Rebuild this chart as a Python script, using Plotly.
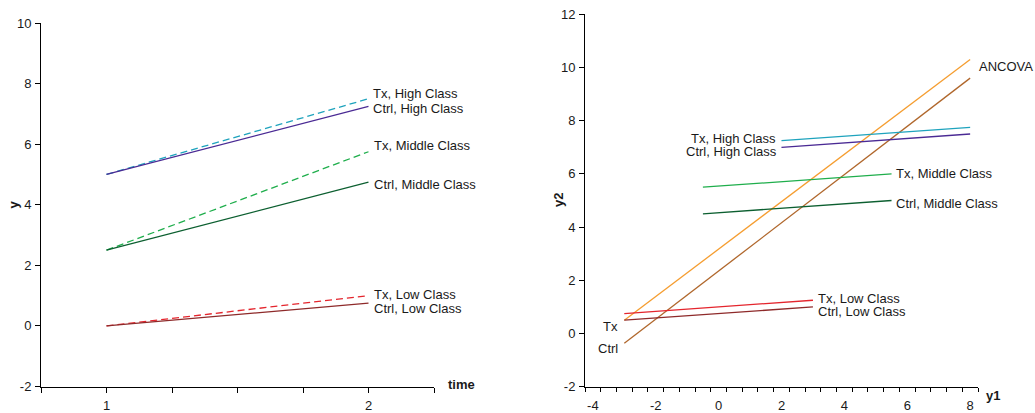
import plotly.graph_objects as go

# ---------------- Left panel data ----------------
time_points = [1, 2]
tx_high = [5.0, 7.5]
ctrl_high = [5.0, 7.25]
tx_mid = [2.5, 5.75]
ctrl_mid = [2.5, 4.75]
tx_low = [0.0, 1.0]
ctrl_low = [0.0, 0.75]

left_xtick_vals = [0.75, 1.0, 1.25, 1.5, 1.75, 2.0, 2.25]
left_xtick_text = ["", "1", "", "", "", "2", ""]
left_ytick_vals = [-2, 0, 2, 4, 6, 8, 10]
left_ytick_text = ["-2", "0", "2", "4", "6", "8", "10"]

# ---------------- Right panel data ----------------
high_y1 = [2, 8]
tx_high_y2 = [7.25, 7.75]
ctrl_high_y2 = [7.0, 7.5]
mid_y1 = [-0.5, 5.5]
tx_mid_y2 = [5.5, 6.0]
ctrl_mid_y2 = [4.5, 5.0]
low_y1 = [-3, 3]
tx_low_y2 = [0.75, 1.25]
ctrl_low_y2 = [0.5, 1.0]
ancova_y1 = [-3, 8]
ancova_tx_y2 = [0.5, 10.3]
ancova_ctrl_y2 = [-0.37, 9.6]

right_xtick_vals = [-4, -2, 0, 2, 4, 6, 8]
right_xtick_text = ["-4", "-2", "0", "2", "4", "6", "8"]
right_xminor_vals = [-4.25 + 0.5 * k for k in range(26)]
right_ytick_vals = [-2, 0, 2, 4, 6, 8, 10, 12]
right_ytick_text = ["-2", "0", "2", "4", "6", "8", "10", "12"]

C_TX_HIGH = "#1ea3bd"
C_CTRL_HIGH = "#4a2a94"
C_TX_MID = "#1fae4c"
C_CTRL_MID = "#0c5f30"
C_TX_LOW = "#e4252d"
C_CTRL_LOW = "#8e2a2a"
C_ANC_TX = "#f59d30"
C_ANC_CTRL = "#b0672c"

FONT = "Liberation Sans, Arial, sans-serif"
TXT = "#1a1a1a"
DASH = "7px,4px"

fig = go.Figure()

def add_line(x, y, color, dash=None, xa="x", ya="y"):
    fig.add_trace(go.Scatter(
        x=x, y=y, mode="lines", xaxis=xa, yaxis=ya,
        line=dict(color=color, width=1.3, dash=dash if dash else "solid"),
        showlegend=False, hoverinfo="skip"))

# Left panel
add_line(time_points, tx_high, C_TX_HIGH, DASH)
add_line(time_points, ctrl_high, C_CTRL_HIGH)
add_line(time_points, tx_mid, C_TX_MID, DASH)
add_line(time_points, ctrl_mid, C_CTRL_MID)
add_line(time_points, tx_low, C_TX_LOW, DASH)
add_line(time_points, ctrl_low, C_CTRL_LOW)

# Right panel
add_line(ancova_y1, ancova_tx_y2, C_ANC_TX, xa="x2", ya="y2")
add_line(ancova_y1, ancova_ctrl_y2, C_ANC_CTRL, xa="x2", ya="y2")
add_line(high_y1, tx_high_y2, C_TX_HIGH, xa="x2", ya="y2")
add_line(high_y1, ctrl_high_y2, C_CTRL_HIGH, xa="x2", ya="y2")
add_line(mid_y1, tx_mid_y2, C_TX_MID, xa="x2", ya="y2")
add_line(mid_y1, ctrl_mid_y2, C_CTRL_MID, xa="x2", ya="y2")
add_line(low_y1, tx_low_y2, C_TX_LOW, xa="x2", ya="y2")
add_line(low_y1, ctrl_low_y2, C_CTRL_LOW, xa="x2", ya="y2")

ann = []

def label(text, x, y, xref, yref, xanchor, xshift, yshift):
    ann.append(dict(
        text=text, x=x, y=y, xref=xref, yref=yref,
        xanchor=xanchor, yanchor="middle", xshift=xshift, yshift=yshift,
        showarrow=False, font=dict(family=FONT, size=13, color=TXT)))

# Left labels
label("Tx, High Class", time_points[1], tx_high[1], "x", "y", "left", 2, 5)
label("Ctrl, High Class", time_points[1], ctrl_high[1], "x", "y", "left", 2, -2)
label("Tx, Middle Class", time_points[1], tx_mid[1], "x", "y", "left", 3, 6)
label("Ctrl, Middle Class", time_points[1], ctrl_mid[1], "x", "y", "left", 3, -2)
label("Tx, Low Class", time_points[1], tx_low[1], "x", "y", "left", 3, 1.5)
label("Ctrl, Low Class", time_points[1], ctrl_low[1], "x", "y", "left", 3, -5)

# Right labels
label("Tx, High Class", high_y1[0], tx_high_y2[0], "x2", "y2", "right", -4, 2.5)
label("Ctrl, High Class", high_y1[0], ctrl_high_y2[0], "x2", "y2", "right", -3, -4)
label("Tx, Middle Class", mid_y1[1], tx_mid_y2[1], "x2", "y2", "left", 2, 0)
label("Ctrl, Middle Class", mid_y1[1], ctrl_mid_y2[1], "x2", "y2", "left", 2, -3)
label("Tx, Low Class", low_y1[1], tx_low_y2[1], "x2", "y2", "left", 3, 1.5)
label("Ctrl, Low Class", low_y1[1], ctrl_low_y2[1], "x2", "y2", "left", 3, -4.5)
label("ANCOVA", ancova_y1[1], ancova_tx_y2[1], "x2", "y2", "left", 7, -7)
label("Tx", ancova_y1[0], ancova_tx_y2[0], "x2", "y2", "right", -4, -6)
label("Ctrl", ancova_y1[0], ancova_ctrl_y2[0], "x2", "y2", "right", -4, -5.5)

W, H = 1035, 413

def axis_title(text, px, py, angle=0):
    ann.append(dict(text=f"<b>{text}</b>", x=px / W, y=(H - py) / H,
                    xref="paper", yref="paper", xanchor="center", yanchor="middle",
                    showarrow=False, textangle=angle,
                    font=dict(family=FONT, size=13, color=TXT)))

axis_title("y", 13.5, 205, -90)
axis_title("time", 461.5, 384)
axis_title("y2", 559, 200, -90)
axis_title("y1", 993, 395)

axis_common = dict(showline=True, linecolor="black", linewidth=1, showgrid=False,
                   zeroline=False, ticks="outside", ticklen=5, tickcolor="black",
                   tickwidth=1, tickfont=dict(family=FONT, size=13, color=TXT),
                   automargin=False, fixedrange=True)

fig.update_layout(
    width=W, height=H,
    margin=dict(l=0, r=0, t=0, b=0),
    paper_bgcolor="white", plot_bgcolor="white",
    showlegend=False,
    xaxis=dict(domain=[41 / W, 434 / W], range=[0.75, 2.25], anchor="y",
               tickvals=left_xtick_vals, ticktext=left_xtick_text,
               ticklabelstandoff=2, **axis_common),
    yaxis=dict(domain=[(H - 386.5) / H, (H - 23) / H], range=[-2, 10], anchor="x",
               tickvals=left_ytick_vals, ticktext=left_ytick_text,
               ticklabelstandoff=1, **axis_common),
    xaxis2=dict(domain=[585 / W, 978 / W], range=[-4.25, 8.25], anchor="y2",
                tickvals=right_xtick_vals, ticktext=right_xtick_text, ticklabelstandoff=2,
                minor=dict(tickvals=right_xminor_vals, ticks="outside", ticklen=4,
                           tickcolor="black", tickwidth=1, showgrid=False),
                **{**axis_common, "tickcolor": "rgba(0,0,0,0)"}),
    yaxis2=dict(domain=[(H - 386.7) / H, (H - 14.3) / H], range=[-2, 12], anchor="x2",
                tickvals=right_ytick_vals, ticktext=right_ytick_text,
                ticklabelstandoff=1, **axis_common),
    annotations=ann,
)

fig.write_html(
    "out.html",
    config={"displayModeBar": False},
    post_script="document.body.style.margin='0px';document.body.style.overflow='hidden';",
)
